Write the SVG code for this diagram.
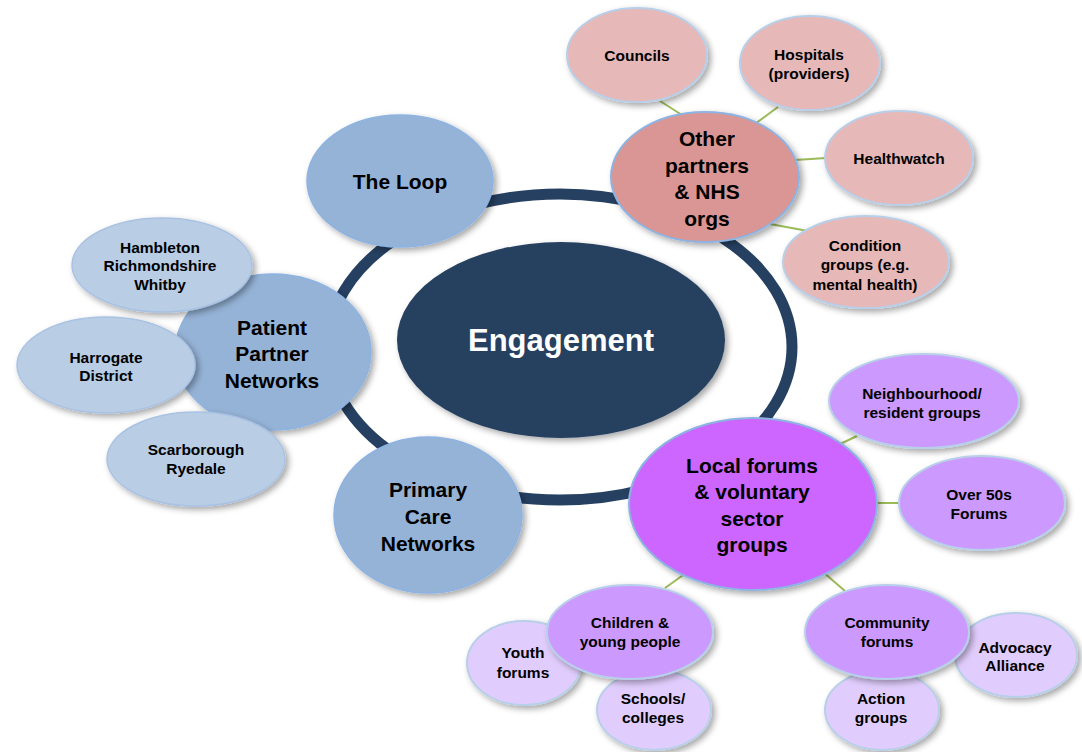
<svg xmlns="http://www.w3.org/2000/svg" width="1082" height="752" viewBox="0 0 1082 752">
<defs>
<filter id="sh" x="-20%" y="-20%" width="150%" height="150%">
<feDropShadow dx="3" dy="3" stdDeviation="3" flood-color="#000" flood-opacity="0.35"/>
</filter>
<style>
text{font-family:"Liberation Sans",Arial,sans-serif;font-weight:bold;fill:#000;text-anchor:middle}
.m{font-size:21px}
.s{font-size:15.5px}
.e{font-size:31px;fill:#fff}
ellipse{filter:url(#sh)}
.blue{fill:#95b3d7;stroke:#8db3e2;stroke-width:1.5}
.lblue{fill:#b9cde5;stroke:#a9c2e3;stroke-width:1.5}
.red{fill:#d99694;stroke:#8db3e2;stroke-width:2}
.lred{fill:#e6b9b8;stroke:#b8cfe9;stroke-width:2}
.pur{fill:#cc66ff;stroke:#8db3e2;stroke-width:2}
.mpur{fill:#cc99ff;stroke:#b8cfe9;stroke-width:2}
.lpur{fill:#e1cdfd;stroke:#b8cfe9;stroke-width:2}
.con line{stroke:#9bbb59;stroke-width:2}
</style>
</defs>
<rect width="1082" height="752" fill="#fff"/>
<g id="ring"><ellipse cx="560" cy="347" rx="232" ry="153" fill="none" stroke="#264061" stroke-width="11" style="filter:none"/></g>
<g id="engagement"><ellipse cx="561" cy="340" rx="164" ry="98" fill="#274060"/><text class="e" x="561" y="351">Engagement</text></g>
<g id="connectors" class="con">
<line x1="660" y1="101" x2="682" y2="115"/>
<line x1="778" y1="107" x2="755" y2="124"/>
<line x1="826" y1="158" x2="795" y2="160"/>
<line x1="808" y1="231" x2="770" y2="224"/>
<line x1="857" y1="436" x2="836" y2="446"/>
<line x1="877" y1="503" x2="900" y2="503"/>
<line x1="665" y1="588" x2="686" y2="573"/>
<line x1="823" y1="572" x2="845" y2="591"/>
</g>
<g id="loop"><ellipse class="blue" cx="400" cy="181" rx="93" ry="66"/><text class="m" x="400" y="188.5">The Loop</text></g>
<g id="ppn"><ellipse class="blue" cx="273" cy="352" rx="98" ry="78"/><text class="m" x="272" y="334.5">Patient</text><text class="m" x="272" y="361">Partner</text><text class="m" x="272" y="387.5">Networks</text></g>
<g id="hambleton"><ellipse class="lblue" cx="162" cy="265" rx="90" ry="47"/><text class="s" x="160" y="252.5">Hambleton</text><text class="s" x="160" y="271">Richmondshire</text><text class="s" x="160" y="289.5">Whitby</text></g>
<g id="harrogate"><ellipse class="lblue" cx="106" cy="365" rx="89" ry="48"/><text class="s" x="106" y="362.5">Harrogate</text><text class="s" x="106" y="381">District</text></g>
<g id="scarborough"><ellipse class="lblue" cx="196" cy="459" rx="89" ry="47"/><text class="s" x="196" y="454.5">Scarborough</text><text class="s" x="196" y="473.5">Ryedale</text></g>
<g id="primary"><ellipse class="blue" cx="428" cy="515" rx="94" ry="78"/><text class="m" x="428" y="496.5">Primary</text><text class="m" x="428" y="523.5">Care</text><text class="m" x="428" y="550.5">Networks</text></g>
<g id="other"><ellipse class="red" cx="705" cy="177" rx="94" ry="65"/><text class="m" x="707" y="146">Other</text><text class="m" x="707" y="172.5">partners</text><text class="m" x="707" y="199">&amp; NHS</text><text class="m" x="707" y="225.5">orgs</text></g>
<g id="councils"><ellipse class="lred" cx="637" cy="55" rx="70" ry="47"/><text class="s" x="637" y="60.5">Councils</text></g>
<g id="hospitals"><ellipse class="lred" cx="810" cy="63" rx="70" ry="47"/><text class="s" x="809" y="60">Hospitals</text><text class="s" x="809" y="79">(providers)</text></g>
<g id="healthwatch"><ellipse class="lred" cx="899" cy="158" rx="74" ry="47"/><text class="s" x="899" y="163.5">Healthwatch</text></g>
<g id="condition"><ellipse class="lred" cx="866" cy="262" rx="83" ry="46"/><text class="s" x="865" y="250.5">Condition</text><text class="s" x="865" y="270">groups (e.g.</text><text class="s" x="865" y="289.5">mental health)</text></g>
<g id="local"><ellipse class="pur" cx="753" cy="504" rx="124" ry="86"/><text class="m" x="752" y="472.5">Local forums</text><text class="m" x="752" y="499">&amp; voluntary</text><text class="m" x="752" y="525.5">sector</text><text class="m" x="752" y="552">groups</text></g>
<g id="neighbourhood"><ellipse class="mpur" cx="924" cy="401" rx="95" ry="47"/><text class="s" x="922" y="398.5">Neighbourhood/</text><text class="s" x="922" y="417.5">resident groups</text></g>
<g id="over50s"><ellipse class="mpur" cx="982" cy="503" rx="83" ry="47"/><text class="s" x="979" y="499.5">Over 50s</text><text class="s" x="979" y="518.5">Forums</text></g>
<g id="youth"><ellipse class="lpur" cx="524" cy="663" rx="57" ry="42"/><text class="s" x="523" y="657.5">Youth</text><text class="s" x="523" y="677.5">forums</text></g>
<g id="schools"><ellipse class="lpur" cx="654" cy="710" rx="57" ry="40"/><text class="s" x="653" y="703.5">Schools/</text><text class="s" x="653" y="722.5">colleges</text></g>
<g id="children"><ellipse class="mpur" cx="630" cy="632" rx="83" ry="47"/><text class="s" x="630" y="627.5">Children &amp;</text><text class="s" x="630" y="646.5">young people</text></g>
<g id="advocacy"><ellipse class="lpur" cx="1016" cy="655" rx="61" ry="42"/><text class="s" x="1015" y="652.5">Advocacy</text><text class="s" x="1015" y="670.5">Alliance</text></g>
<g id="action"><ellipse class="lpur" cx="882" cy="710" rx="57" ry="40"/><text class="s" x="881" y="703.5">Action</text><text class="s" x="881" y="722.5">groups</text></g>
<g id="community"><ellipse class="mpur" cx="887" cy="632" rx="82" ry="47"/><text class="s" x="887" y="627.5">Community</text><text class="s" x="887" y="646.5">forums</text></g>
</svg>
